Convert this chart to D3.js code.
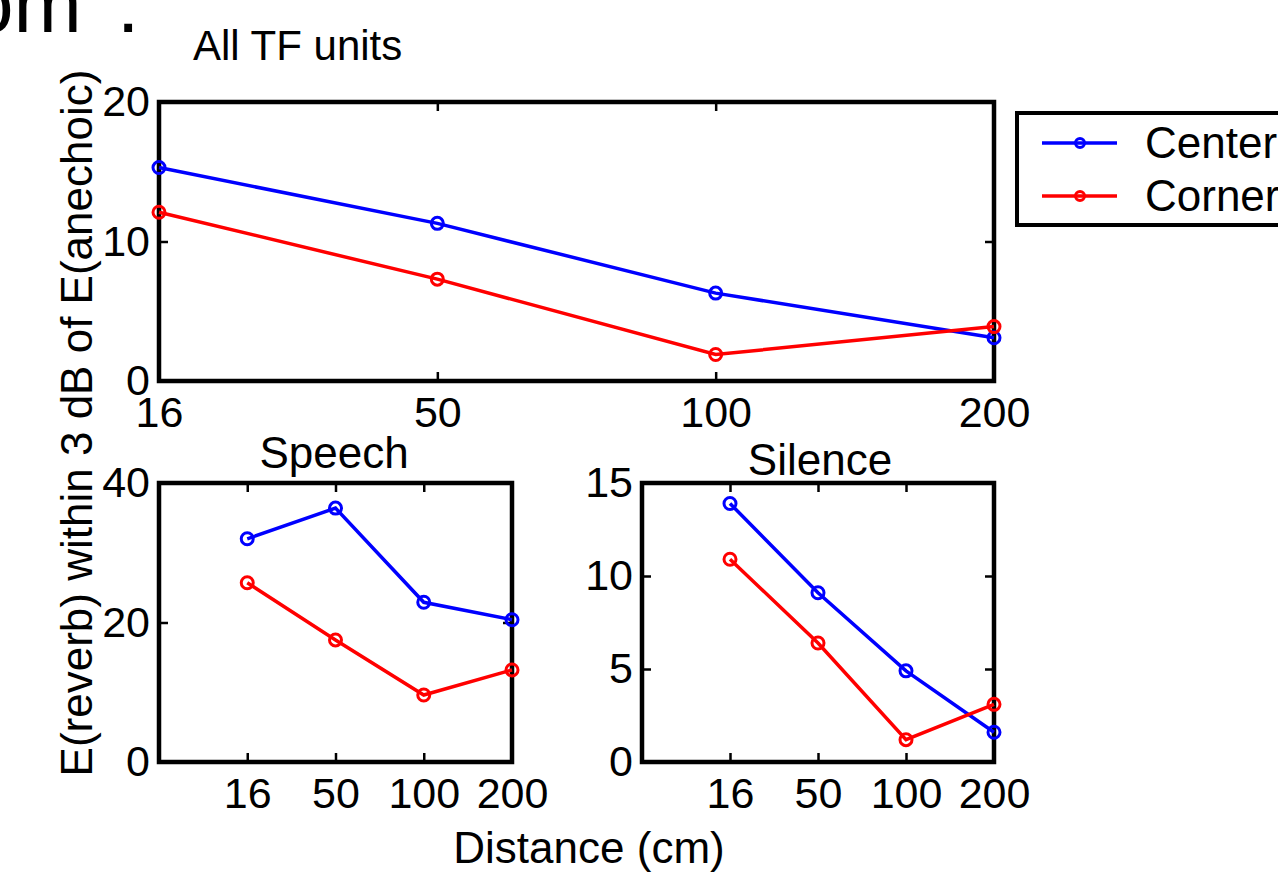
<!DOCTYPE html>
<html>
<head>
<meta charset="utf-8">
<script src="https://cdn.jsdelivr.net/npm/d3@7"></script>
<style>
  body { margin: 0; background: #fff; }
  text { font-family: "Liberation Sans", Arial, Helvetica, sans-serif; fill: #000; }
</style>
</head>
<body>
<svg id="fig" width="1278" height="875"></svg>
<script>
// ---- data ----
var distances = ["16", "50", "100", "200"];
var seriesNames = ["Center", "Corner"];
var seriesColors = ["#0000ff", "#ff0000"];

var allCenter = [15.3, 11.3, 6.3, 3.1];
var allCorner = [12.1, 7.3, 1.9, 3.9];
var speechCenter = [32.0, 36.4, 22.9, 20.4];
var speechCorner = [25.7, 17.5, 9.6, 13.2];
var silenceCenter = [13.9, 9.1, 4.9, 1.6];
var silenceCorner = [10.9, 6.4, 1.2, 3.1];

var allTicks = [0, 10, 20];
var speechTicks = [0, 20, 40];
var silenceTicks = [0, 5, 10, 15];

var svg = d3.select("#fig");

// cut-off slide text at the top-left corner
svg.append("text")
  .attr("x", -32).attr("y", 32)
  .style("font-size", "82px")
  .style("word-spacing", "12px")
  .text("om :");

// one axes box, matlab style (frame, inward ticks on all sides)
function panel(p) {
  var g = svg.append("g").attr("transform", `translate(${p.x0},${p.y0})`);
  var x = d3.scaleLinear().domain(p.xDomain).range([0, p.w]);
  var y = d3.scaleLinear().domain([0, p.yMax]).range([p.h, 0]);
  var idx = distances.map((d, i) => i + p.offset);

  g.append("g").call(d3.axisLeft(y).tickValues(p.yTicks).tickSize(-9).tickPadding(9));
  g.append("g").attr("transform", `translate(${p.w},0)`)
    .call(d3.axisRight(y).tickValues(p.yTicks).tickSize(-9).tickFormat(""));
  g.append("g").attr("transform", `translate(0,${p.h})`)
    .call(d3.axisBottom(x).tickValues(idx).tickSize(-9).tickPadding(15)
      .tickFormat((i) => distances[i - p.offset]));
  g.append("g")
    .call(d3.axisTop(x).tickValues(idx).tickSize(-9).tickFormat(""));

  g.selectAll(".domain").remove();
  g.selectAll(".tick line").attr("stroke", "#000").attr("stroke-width", 2.5);
  g.selectAll(".tick text").style("font-size", "43px").attr("fill", "#000");
  g.selectAll("g").attr("font-family", null).attr("font-size", null);

  g.append("rect")
    .attr("width", p.w).attr("height", p.h)
    .attr("fill", "none").attr("stroke", "#000").attr("stroke-width", 4.5);

  var line = d3.line().x((d, i) => x(i + p.offset)).y((d) => y(d));
  p.series.forEach((vals, k) => {
    g.append("path")
      .datum(vals)
      .attr("d", line)
      .attr("fill", "none")
      .attr("stroke", seriesColors[k])
      .attr("stroke-width", 3.5);
    g.selectAll(null)
      .data(vals)
      .join("circle")
      .attr("cx", (d, i) => x(i + p.offset))
      .attr("cy", (d) => y(d))
      .attr("r", 6)
      .attr("fill", "none")
      .attr("stroke", seriesColors[k])
      .attr("stroke-width", 3);
  });

  svg.append("text")
    .attr("x", p.titleX).attr("y", p.titleY)
    .attr("text-anchor", p.titleAnchor)
    .style("font-size", p.titleSize + "px")
    .text(p.title);
}

panel({ x0: 159, y0: 102, w: 835, h: 279, xDomain: [0, 3], offset: 0,
  yMax: 20, yTicks: allTicks, series: [allCenter, allCorner],
  title: "All TF units", titleX: 193, titleY: 60, titleAnchor: "start", titleSize: 42 });

panel({ x0: 159, y0: 483, w: 353, h: 279, xDomain: [0, 4], offset: 1,
  yMax: 40, yTicks: speechTicks, series: [speechCenter, speechCorner],
  title: "Speech", titleX: 334, titleY: 468, titleAnchor: "middle", titleSize: 44 });

panel({ x0: 642, y0: 483, w: 352, h: 279, xDomain: [0, 4], offset: 1,
  yMax: 15, yTicks: silenceTicks, series: [silenceCenter, silenceCorner],
  title: "Silence", titleX: 820, titleY: 475, titleAnchor: "middle", titleSize: 44 });

// shared axis labels
svg.append("text")
  .attr("transform", "translate(92,423) rotate(-90)")
  .attr("text-anchor", "middle")
  .style("font-size", "44px")
  .text("E(reverb) within 3 dB of E(anechoic)");

svg.append("text")
  .attr("x", 589).attr("y", 863)
  .attr("text-anchor", "middle")
  .style("font-size", "44px")
  .text("Distance (cm)");

// legend (runs off the right edge like the original)
var legend = svg.append("g").attr("transform", "translate(1017,113)");
legend.append("rect")
  .attr("width", 320).attr("height", 112)
  .attr("fill", "#fff").attr("stroke", "#000").attr("stroke-width", 4);
seriesNames.forEach((name, k) => {
  var ly = 30 + k * 53;
  legend.append("line")
    .attr("x1", 25).attr("x2", 100).attr("y1", ly).attr("y2", ly)
    .attr("stroke", seriesColors[k]).attr("stroke-width", 3.5);
  legend.append("circle")
    .attr("cx", 63).attr("cy", ly).attr("r", 4.5)
    .attr("fill", "none").attr("stroke", seriesColors[k]).attr("stroke-width", 3);
  legend.append("text")
    .attr("x", 128).attr("y", ly + 15)
    .style("font-size", "44px")
    .text(name);
});
</script>
</body>
</html>
